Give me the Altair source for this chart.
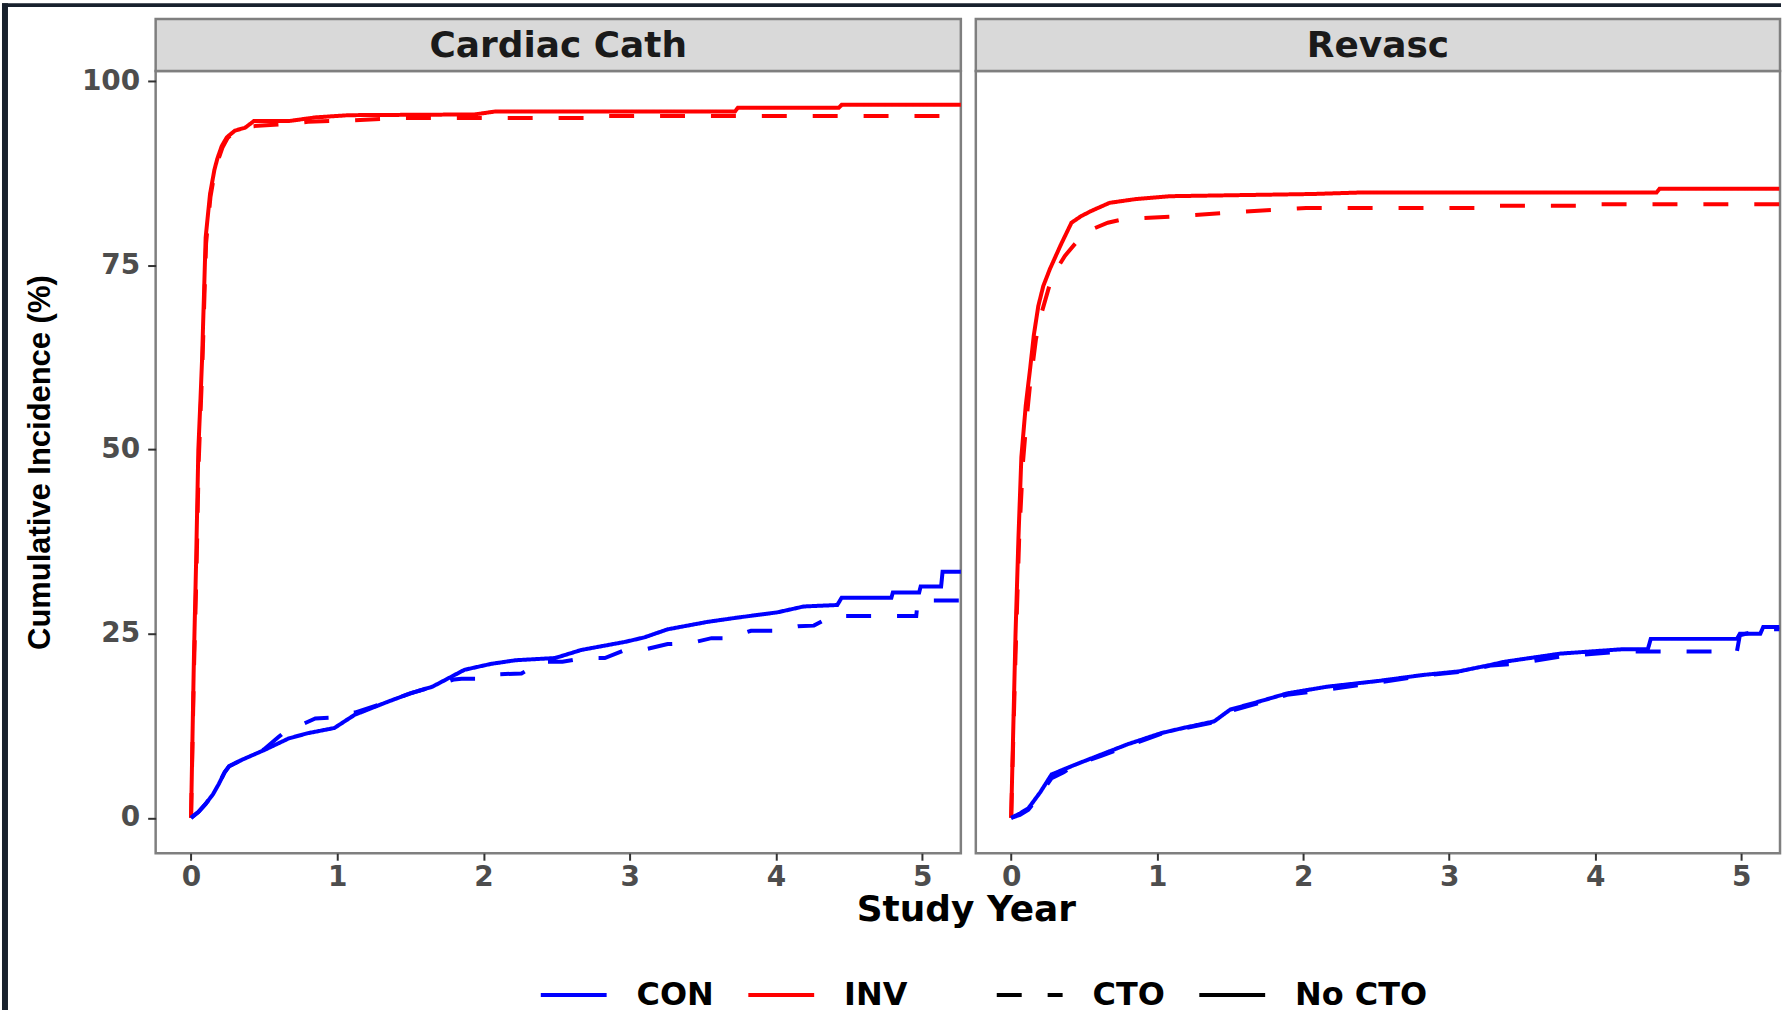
import altair as alt
import pandas as pd

# ---------------- data ----------------
panels = ["Cardiac Cath", "Revasc"]
arms = ["CON", "INV"]
cto_groups = ["CTO", "No CTO"]
x_ticks = [0, 1, 2, 3, 4, 5]
y_ticks = [0, 25, 50, 75, 100]

# Cardiac Cath, INV, No CTO (solid red)
p1_inv_nocto_x = [0, 0.02, 0.035, 0.05, 0.065, 0.075, 0.09, 0.10, 0.13, 0.16, 0.18, 0.21, 0.245, 0.30, 0.37, 0.43,
                  0.67, 0.85, 1.08, 1.94, 2.08, 3.72, 3.74, 4.43, 4.45, 5.27]
p1_inv_nocto_y = [0, 22, 35, 50, 57, 62, 72, 78.8, 84.7, 88.0, 89.5, 91.2, 92.4, 93.3, 93.7, 94.6,
                  94.6, 95.1, 95.4, 95.5, 95.9, 95.9, 96.4, 96.4, 96.8, 96.8]
# Cardiac Cath, INV, CTO (dashed red)
p1_inv_cto_x = [0, 0.02, 0.037, 0.052, 0.067, 0.077, 0.092, 0.103, 0.133, 0.163, 0.185, 0.215, 0.25, 0.30, 0.37, 0.42,
                0.65, 0.80, 1.10, 1.45, 2.80, 2.85, 5.27]
p1_inv_cto_y = [0, 20, 33, 48, 56, 61, 71, 78, 84.3, 87.8, 89.3, 91.0, 92.3, 93.2, 93.6, 93.9,
                94.2, 94.5, 94.7, 95.0, 95.0, 95.3, 95.3]
# Cardiac Cath, CON, No CTO (solid blue)
p1_con_nocto_x = [0, 0.05, 0.10, 0.15, 0.19, 0.23, 0.26, 0.35, 0.50, 0.67, 0.80, 0.98, 1.12, 1.35, 1.50, 1.65, 1.87,
                  2.05, 2.22, 2.49, 2.67, 2.97, 3.10, 3.26, 3.53, 3.74, 4.01, 4.19, 4.42, 4.45, 4.79, 4.80, 4.98,
                  4.99, 5.13, 5.14, 5.27]
p1_con_nocto_y = [0, 0.8, 1.9, 3.2, 4.6, 6.2, 7.0, 7.9, 9.2, 10.8, 11.5, 12.2, 14.0, 15.8, 16.9, 17.8, 20.1,
                  20.9, 21.4, 21.7, 22.8, 23.9, 24.5, 25.6, 26.6, 27.2, 27.9, 28.7, 28.9, 29.9, 29.9, 30.6, 30.6,
                  31.4, 31.4, 33.4, 33.4]
# Cardiac Cath, CON, CTO (dashed blue)
p1_con_cto_x = [0, 0.05, 0.10, 0.15, 0.19, 0.23, 0.26, 0.35, 0.50, 0.60, 0.66, 0.75, 0.85, 0.96, 1.05, 1.12, 1.35,
                1.50, 1.65, 1.80, 1.85, 2.01, 2.10, 2.26, 2.40, 2.54, 2.69, 2.83, 2.97, 3.11, 3.26, 3.41, 3.56,
                3.68, 3.83, 3.99, 4.15, 4.26, 4.38, 4.96, 4.97, 5.27]
p1_con_cto_y = [0, 0.8, 1.9, 3.2, 4.6, 6.2, 7.0, 7.9, 9.3, 11.0, 12.0, 12.6, 13.5, 13.6, 14.2, 14.3, 15.8,
                16.9, 17.8, 18.8, 18.9, 18.9, 19.5, 19.6, 21.2, 21.2, 21.7, 21.7, 22.8, 22.9, 23.6, 23.7, 24.4,
                24.4, 25.4, 25.4, 26.0, 26.1, 27.4, 27.4, 29.5, 29.5]

# Revasc, INV, No CTO (solid red)
p2_inv_nocto_x = [0, 0.03, 0.05, 0.07, 0.10, 0.13, 0.155, 0.186, 0.22, 0.265, 0.34, 0.413, 0.48, 0.549, 0.674,
                  0.85, 1.09, 2.07, 2.39, 4.42, 4.44, 5.26]
p2_inv_nocto_y = [0, 25, 38, 49, 56, 61, 65.5, 69.5, 72.2, 74.5, 77.8, 80.8, 81.7, 82.4, 83.5,
                  84.0, 84.4, 84.7, 84.9, 84.9, 85.4, 85.4]
# Revasc, INV, CTO (dashed red)
p2_inv_cto_x = [0, 0.03, 0.055, 0.08, 0.105, 0.129, 0.17, 0.209, 0.28, 0.368, 0.504, 0.662, 0.776, 1.09, 1.43,
                1.75, 2.02, 3.20, 3.25, 3.95, 4.00, 5.26]
p2_inv_cto_y = [0, 22, 38, 48, 54, 58.7, 65, 68.6, 73.5, 76.3, 79.5, 80.8, 81.3, 81.6, 82.1,
                82.5, 82.8, 82.8, 83.1, 83.1, 83.3, 83.3]
# Revasc, CON, No CTO (solid blue)
p2_con_nocto_x = [0, 0.06, 0.118, 0.20, 0.277, 0.35, 0.436, 0.617, 0.799, 1.026, 1.20, 1.39, 1.50, 1.70, 1.89,
                  2.16, 2.52, 2.82, 3.07, 3.29, 3.38, 3.76, 4.19, 4.36, 4.38, 4.97, 4.99, 5.13, 5.15, 5.26]
p2_con_nocto_y = [0, 0.6, 1.3, 3.5, 5.9, 6.5, 7.2, 8.6, 10.0, 11.5, 12.3, 13.1, 14.7, 15.8, 16.9,
                  17.8, 18.6, 19.4, 19.9, 20.8, 21.2, 22.3, 22.9, 22.9, 24.3, 24.3, 25.0, 25.0, 25.9, 25.9]
# Revasc, CON, CTO (dashed blue)
p2_con_cto_x = [0, 0.06, 0.118, 0.20, 0.277, 0.36, 0.45, 0.617, 0.80, 1.026, 1.20, 1.39, 1.50, 1.70, 1.89,
                2.16, 2.52, 2.82, 3.07, 3.29, 3.45, 3.76, 4.19, 4.97, 4.99, 5.15, 5.26]
p2_con_cto_y = [0, 0.4, 1.1, 3.2, 5.4, 6.2, 7.3, 8.4, 9.8, 11.4, 12.2, 13.0, 14.5, 15.6, 16.7,
                17.4, 18.4, 19.3, 19.8, 20.7, 20.9, 21.9, 22.6, 22.6, 24.8, 25.6, 25.6]

series = [
    ("Cardiac Cath", "INV", "No CTO", p1_inv_nocto_x, p1_inv_nocto_y),
    ("Cardiac Cath", "INV", "CTO", p1_inv_cto_x, p1_inv_cto_y),
    ("Cardiac Cath", "CON", "No CTO", p1_con_nocto_x, p1_con_nocto_y),
    ("Cardiac Cath", "CON", "CTO", p1_con_cto_x, p1_con_cto_y),
    ("Revasc", "INV", "No CTO", p2_inv_nocto_x, p2_inv_nocto_y),
    ("Revasc", "INV", "CTO", p2_inv_cto_x, p2_inv_cto_y),
    ("Revasc", "CON", "No CTO", p2_con_nocto_x, p2_con_nocto_y),
    ("Revasc", "CON", "CTO", p2_con_cto_x, p2_con_cto_y),
]
rows = []
for panel, arm, cto, xs, ys in series:
    for i, (xv, yv) in enumerate(zip(xs, ys)):
        rows.append({"panel": panel, "arm": arm, "cto": cto, "idx": i, "year": xv, "ci": yv})
df = pd.DataFrame(rows)
strip_df = pd.DataFrame({"panel": panels})
frame_df = pd.DataFrame({"k": [0]})

# ---------------- style ----------------
NAVY = "#18212d"
WIDE = "DejaVu Sans"
ARIAL = "Liberation Sans"
H = 784
W1, W2 = 807, 806
X_DOMAIN = [-0.242, 5.265]
Y_DOMAIN = [-4.8, 101.4]

color_scale = alt.Scale(domain=arms, range=["#0000ff", "#ff0000"])
dash_scale = alt.Scale(domain=cto_groups, range=[[25, 26], [1, 0]])

common_legend = dict(
    orient="none", direction="horizontal", title=None, symbolType="stroke",
    symbolSize=4356, symbolStrokeWidth=4, labelFont=WIDE, labelFontWeight="bold",
    labelFontSize=32, labelColor="black", labelOffset=28, columnPadding=26, padding=0,
    labelLimit=300,
)


def x_axis(first):
    kw = dict(values=x_ticks, format="d", grid=False, domain=False,
              labelFont=WIDE, labelFontWeight="bold", labelFontSize=28, labelColor="#4d4d4d",
              tickColor="#333333", tickWidth=2, tickSize=7, labelPadding=3)
    if first:
        kw.update(title="Study Year", titleX=812, titleY=67, titleAlign="center",
                  titleBaseline="alphabetic", titleFont=WIDE, titleFontSize=36,
                  titleFontWeight="bold", titleColor="black")
    else:
        kw.update(title="")
    return alt.Axis(**kw)


def y_axis(first):
    if first:
        return alt.Axis(values=y_ticks, grid=False, domain=False,
                        labelFont=WIDE, labelFontWeight="bold", labelFontSize=28, labelColor="#4d4d4d",
                        tickColor="#333333", tickWidth=2, tickSize=8, labelPadding=8,
                        title="Cumulative Incidence (%)", titleX=-115, titleY=392, titleAngle=270,
                        titleAlign="center", titleBaseline="middle", titleFont=ARIAL,
                        titleFontSize=31, titleFontWeight="bold", titleColor="black")
    return alt.Axis(values=y_ticks, grid=False, domain=False, labels=False, ticks=False, title="")


def panel(name, width, first):
    lines = alt.Chart(df).transform_filter(alt.datum.panel == name).mark_line(
        strokeWidth=4, clip=True
    ).encode(
        x=alt.X("year:Q", scale=alt.Scale(domain=X_DOMAIN, nice=False, zero=False), axis=x_axis(first)),
        y=alt.Y("ci:Q", scale=alt.Scale(domain=Y_DOMAIN, nice=False, zero=False), axis=y_axis(first)),
        color=alt.Color("arm:N", scale=color_scale,
                        legend=alt.Legend(legendX=384, legendY=891, **common_legend)),
        strokeDash=alt.StrokeDash("cto:N", scale=dash_scale,
                                  legend=alt.Legend(legendX=841, legendY=891, symbolStrokeColor="black",
                                                    **common_legend)),
        order=alt.Order("idx:Q"),
    )
    strip = alt.Chart(strip_df).transform_filter(alt.datum.panel == name).mark_rect(
        fill="#d9d9d9", stroke="#7f7f7f", strokeWidth=2.5
    ).encode(x=alt.value(0), x2=alt.value(width), y=alt.value(-52), y2=alt.value(0))
    strip_text = alt.Chart(strip_df).transform_filter(alt.datum.panel == name).mark_text(
        font=WIDE, fontWeight="bold", fontSize=36, color="#1a1a1a", baseline="middle", align="center"
    ).encode(x=alt.value(width / 2), y=alt.value(-25), text="panel:N")
    layers = [strip, strip_text, lines]
    if first:
        left_bar = alt.Chart(frame_df).mark_rect(fill=NAVY).encode(
            x=alt.value(-154), x2=alt.value(-148), y=alt.value(-68), y2=alt.value(942))
        top_bar = alt.Chart(frame_df).mark_rect(fill=NAVY).encode(
            x=alt.value(-154), x2=alt.value(1629), y=alt.value(-68), y2=alt.value(-64))
        layers = [left_bar, top_bar] + layers
    return alt.layer(*layers).properties(width=width, height=H)


chart = alt.hconcat(
    panel("Cardiac Cath", W1, True),
    panel("Revasc", W2, False),
    spacing=15, bounds="flush",
).properties(padding=0, background="white").configure_view(
    stroke="#7f7f7f", strokeWidth=2.5, fill="white"
)

chart.save("out.html", embed_options={"renderer": "svg", "actions": False})
